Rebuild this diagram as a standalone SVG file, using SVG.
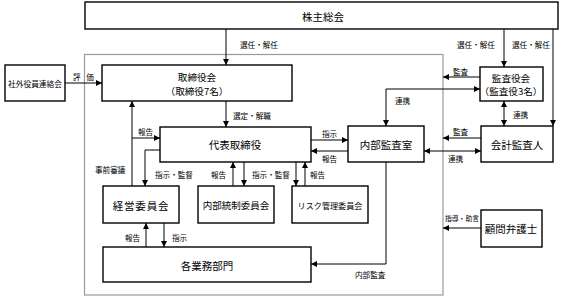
<svg xmlns="http://www.w3.org/2000/svg" width="567" height="300" viewBox="0 0 567 300">
<style>
.box{fill:#fff;stroke:#000;stroke-width:1.4}
.t{font-family:"Noto Sans CJK JP","Noto Sans",sans-serif;font-size:10.5px;fill:#000;text-anchor:middle;dominant-baseline:central}
.t2{font-size:9.6px}
.s{font-family:"Noto Sans CJK JP","Noto Sans",sans-serif;font-size:7.6px;fill:#000;dominant-baseline:central}
.c{fill:none;stroke:#000;stroke-width:1}
</style>
<defs>
<marker id="a" viewBox="0 0 10 10" refX="10" refY="5" markerWidth="6" markerHeight="6" markerUnits="userSpaceOnUse" orient="auto-start-reverse"><path d="M0,0L10,5L0,10z" fill="#000"/></marker>
</defs>
<rect width="567" height="300" fill="#fff"/>
<rect id="container" x="84.5" y="54.5" width="358.5" height="240.5" fill="none" stroke="#9a9a9a" stroke-width="1.2"/>

<g id="connectors" class="c">
<path class="c" d="M226,29V65" marker-end="url(#a)"/>
<path class="c" d="M504,29V67" marker-end="url(#a)"/>
<path class="c" d="M553,29V126" marker-end="url(#a)"/>
<path class="c" d="M65,83H102" marker-end="url(#a)"/>
<path class="c" d="M226,101V127" marker-end="url(#a)"/>
<path class="c" d="M132,186V101" marker-end="url(#a)"/>
<path class="c" d="M132,138H160" marker-end="url(#a)"/>
<path class="c" d="M160,150H145V186" marker-end="url(#a)"/>
<path class="c" d="M233,186V162" marker-end="url(#a)"/>
<path class="c" d="M244,162V186" marker-end="url(#a)"/>
<path class="c" d="M296,162V186" marker-end="url(#a)"/>
<path class="c" d="M305,186V162" marker-end="url(#a)"/>
<path class="c" d="M146,247V223" marker-end="url(#a)"/>
<path class="c" d="M164,223V247" marker-end="url(#a)"/>
<path class="c" d="M311,140H348" marker-end="url(#a)"/>
<path class="c" d="M348,151H311" marker-end="url(#a)"/>
<path class="c" d="M386,162V264H311" marker-end="url(#a)"/>
<path class="c" d="M386,126V89H480" marker-start="url(#a)" marker-end="url(#a)"/>
<path class="c" d="M480,77H443" marker-end="url(#a)"/>
<path class="c" d="M504,101V126" marker-start="url(#a)" marker-end="url(#a)"/>
<path class="c" d="M481,138H443" marker-end="url(#a)"/>
<path class="c" d="M424,151H481" marker-start="url(#a)" marker-end="url(#a)"/>
<path class="c" d="M481,228H443" marker-end="url(#a)"/>
</g>

<g id="labels">
<text class="s" x="240" y="44">選任・解任</text>
<text class="s" x="457" y="44">選任・解任</text>
<text class="s" x="512" y="44">選任・解任</text>
<text class="s" x="73" y="76" style="word-spacing:4px">評 価</text>
<text class="s" x="233" y="115">選定・解職</text>
<text class="s" x="138" y="131">報告</text>
<text class="s" x="95" y="169">事前審議</text>
<text class="s" x="155" y="174">指示・監督</text>
<text class="s" x="211" y="174">報告</text>
<text class="s" x="252" y="174">指示・監督</text>
<text class="s" x="310" y="174">報告</text>
<text class="s" x="125" y="237">報告</text>
<text class="s" x="172" y="237">指示</text>
<text class="s" x="322" y="133">指示</text>
<text class="s" x="322" y="158">報告</text>
<text class="s" x="355" y="274">内部監査</text>
<text class="s" x="395" y="100">連携</text>
<text class="s" x="453" y="71">監査</text>
<text class="s" x="513" y="114">連携</text>
<text class="s" x="453" y="131">監査</text>
<text class="s" x="448" y="158">連携</text>
<text class="s" x="445" y="218" style="font-size:6.8px">指導・助言</text>
</g>

<g id="shareholders"><rect class="box" x="85" y="2" width="473" height="27"/><text class="t" x="323" y="16">株主総会</text></g>
<g id="outside"><rect class="box" x="5" y="65" width="60" height="36"/><text class="t" x="35" y="83" style="font-size:7.7px">社外役員連絡会</text></g>
<g id="board"><rect class="box" x="102" y="65" width="190" height="36"/><text class="t t2" x="197" y="76.5">取締役会</text><text class="t t2" x="197" y="90.5">（取締役7名）</text></g>
<g id="auditboard"><rect class="box" x="480" y="67" width="63" height="34"/><text class="t t2" x="511" y="77.5">監査役会</text><text class="t t2" x="511" y="91">（監査役3名）</text></g>
<g id="president"><rect class="box" x="160" y="127" width="151" height="35"/><text class="t" x="235" y="144">代表取締役</text></g>
<g id="internalaudit"><rect class="box" x="348" y="126" width="76" height="36"/><text class="t" x="386" y="144">内部監査室</text></g>
<g id="accountant"><rect class="box" x="481" y="126" width="72" height="36"/><text class="t" x="517" y="144">会計監査人</text></g>
<g id="mgmt"><rect class="box" x="103" y="186" width="76" height="37"/><text class="t" x="141" y="205" style="letter-spacing:0.8px">経営委員会</text></g>
<g id="internalcontrol"><rect class="box" x="198" y="186" width="76" height="37"/><text class="t" x="236" y="205" style="font-size:9.5px">内部統制委員会</text></g>
<g id="risk"><rect class="box" x="292" y="186" width="76" height="37"/><text class="t" x="330" y="205" style="font-size:8.1px">リスク管理委員会</text></g>
<g id="departments"><rect class="box" x="103" y="247" width="208" height="35"/><text class="t" x="207" y="265">各業務部門</text></g>
<g id="lawyer"><rect class="box" x="481" y="210" width="61" height="37"/><text class="t" x="511" y="228">顧問弁護士</text></g>
</svg>
